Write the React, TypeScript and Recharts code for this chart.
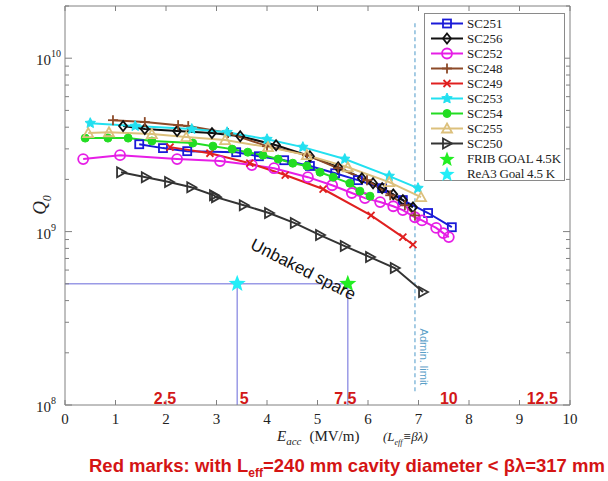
import React from 'react';
import { ComposedChart, Line, Scatter, XAxis, YAxis, ReferenceLine, ReferenceDot, Legend } from 'recharts';

const sc251 = [
  { x: 1.47, y: 3.19e9 }, { x: 1.94, y: 3.03e9 }, { x: 2.42, y: 2.91e9 }, { x: 3.39, y: 2.87e9 },
  { x: 3.84, y: 2.72e9 }, { x: 4.34, y: 2.58e9 }, { x: 4.85, y: 2.39e9 }, { x: 5.35, y: 2.17e9 },
  { x: 5.8, y: 1.98e9 }, { x: 6.28, y: 1.78e9 }, { x: 6.69, y: 1.52e9 }, { x: 7.19, y: 1.28e9 },
  { x: 7.66, y: 1.06e9 },
];
const sc256 = [
  { x: 1.15, y: 4.06e9 }, { x: 1.58, y: 3.9e9 }, { x: 2.22, y: 3.8e9 }, { x: 2.91, y: 3.7e9 },
  { x: 3.47, y: 3.55e9 }, { x: 4.18, y: 3.15e9 }, { x: 4.85, y: 2.72e9 }, { x: 5.41, y: 2.35e9 },
  { x: 5.88, y: 2.03e9 }, { x: 6.1, y: 1.9e9 }, { x: 6.28, y: 1.78e9 }, { x: 6.5, y: 1.64e9 },
  { x: 6.69, y: 1.52e9 }, { x: 6.89, y: 1.38e9 },
];
const sc252 = [
  { x: 0.36, y: 2.62e9 }, { x: 1.09, y: 2.76e9 }, { x: 2.22, y: 2.62e9 }, { x: 3.07, y: 2.55e9 },
  { x: 3.7, y: 2.42e9 }, { x: 4.14, y: 2.32e9 }, { x: 4.81, y: 2.06e9 }, { x: 5.29, y: 1.85e9 },
  { x: 5.68, y: 1.67e9 }, { x: 5.94, y: 1.56e9 }, { x: 6.24, y: 1.48e9 }, { x: 6.5, y: 1.4e9 },
  { x: 6.69, y: 1.33e9 }, { x: 6.93, y: 1.21e9 }, { x: 7.07, y: 1.16e9 }, { x: 7.35, y: 1.05e9 },
  { x: 7.49, y: 9.8e8 }, { x: 7.6, y: 9.3e8 },
];
const sc248 = [
  { x: 0.95, y: 4.39e9 }, { x: 1.58, y: 4.28e9 }, { x: 2.24, y: 4.11e9 }, { x: 2.44, y: 4.06e9 },
  { x: 3.23, y: 3.7e9 }, { x: 4.0, y: 3.11e9 }, { x: 4.79, y: 2.76e9 }, { x: 5.41, y: 2.32e9 },
  { x: 5.98, y: 1.98e9 }, { x: 6.44, y: 1.62e9 }, { x: 6.73, y: 1.42e9 }, { x: 6.93, y: 1.24e9 },
];
const sc249 = [
  { x: 2.08, y: 3.07e9 }, { x: 2.87, y: 2.83e9 }, { x: 3.66, y: 2.48e9 }, { x: 4.36, y: 2.12e9 },
  { x: 5.11, y: 1.76e9 }, { x: 6.06, y: 1.24e9 }, { x: 6.69, y: 9.3e8 }, { x: 6.89, y: 8.4e8 },
];
const sc253 = [
  { x: 0.5, y: 4.22e9 }, { x: 1.39, y: 4.06e9 }, { x: 2.51, y: 3.9e9 }, { x: 3.21, y: 3.74e9 },
  { x: 4.0, y: 3.41e9 }, { x: 4.71, y: 3.07e9 }, { x: 5.54, y: 2.62e9 }, { x: 6.42, y: 2.09e9 },
  { x: 6.99, y: 1.78e9 },
];
const sc254 = [
  { x: 0.4, y: 3.46e9 }, { x: 0.85, y: 3.46e9 }, { x: 1.25, y: 3.46e9 }, { x: 1.72, y: 3.33e9 },
  { x: 2.53, y: 3.24e9 }, { x: 2.93, y: 3.11e9 }, { x: 3.31, y: 2.99e9 }, { x: 3.62, y: 2.87e9 },
  { x: 3.92, y: 2.76e9 }, { x: 4.22, y: 2.62e9 }, { x: 4.51, y: 2.48e9 }, { x: 4.79, y: 2.39e9 },
  { x: 5.05, y: 2.2e9 }, { x: 5.31, y: 2.06e9 }, { x: 5.64, y: 1.9e9 }, { x: 5.84, y: 1.71e9 },
  { x: 6.04, y: 1.6e9 },
];
const sc255 = [
  { x: 0.46, y: 3.7e9 }, { x: 0.87, y: 3.74e9 }, { x: 1.72, y: 3.65e9 }, { x: 2.4, y: 3.51e9 },
  { x: 3.17, y: 3.37e9 }, { x: 4.02, y: 3.07e9 }, { x: 4.79, y: 2.76e9 }, { x: 5.6, y: 2.35e9 },
  { x: 6.42, y: 1.93e9 }, { x: 7.05, y: 1.58e9 },
];
const sc250 = [
  { x: 1.11, y: 2.2e9 }, { x: 1.6, y: 2.06e9 }, { x: 2.06, y: 1.93e9 }, { x: 2.5, y: 1.8e9 },
  { x: 2.95, y: 1.62e9 }, { x: 2.99, y: 1.58e9 }, { x: 3.54, y: 1.42e9 }, { x: 4.04, y: 1.28e9 },
  { x: 4.55, y: 1.12e9 }, { x: 5.05, y: 9.55e8 }, { x: 5.54, y: 8.25e8 }, { x: 6.04, y: 7.13e8 },
  { x: 6.53, y: 6.16e8 }, { x: 7.09, y: 4.48e8 },
];
const fribGoal = [{ x: 5.6, y: 5e8 }];
const rea3Goal = [{ x: 3.41, y: 5e8 }];

const goalQ = 5e8;
const adminLimit = 6.93;
const adminTop = 1.6e10;

const xTicks = [0, 1, 2, 3, 4, 5, 6, 7, 8, 9, 10];
const yTicks = [
  1e8, 2e8, 3e8, 4e8, 5e8, 6e8, 7e8, 8e8, 9e8,
  1e9, 2e9, 3e9, 4e9, 5e9, 6e9, 7e9, 8e9, 9e9,
  1e10, 2e10,
];
const redLabels = [
  { x: 1.98, label: '2.5' },
  { x: 3.55, label: '5' },
  { x: 5.55, label: '7.5' },
  { x: 7.6, label: '10' },
  { x: 9.45, label: '12.5' },
];
const redLabelQ = 1.1e8;

const SERIF = "'Liberation Serif', 'DejaVu Serif', 'Times New Roman', serif";
const SANS = "'Liberation Sans', Arial, sans-serif";
const AXIS = '#808080';

type MarkerKind = 'square' | 'diamond' | 'circle' | 'plus' | 'cross' | 'star' | 'dot' | 'triUp' | 'triRight';

const starPts = (cx: number, cy: number, ro: number, ri: number) => {
  const pts: string[] = [];
  for (let i = 0; i < 10; i++) {
    const r = i % 2 === 0 ? ro : ri;
    const a = -Math.PI / 2 + (i * Math.PI) / 5;
    pts.push(`${cx + r * Math.cos(a)},${cy + r * Math.sin(a)}`);
  }
  return pts.join(' ');
};

const Marker = ({ kind, cx, cy, color }: { kind: MarkerKind; cx: number; cy: number; color: string }) => {
  const sw = 1.8;
  switch (kind) {
    case 'square':
      return <rect x={cx - 4} y={cy - 4} width={8} height={8} fill="none" stroke={color} strokeWidth={sw} />;
    case 'diamond':
      return <polygon points={`${cx},${cy - 5} ${cx + 4},${cy} ${cx},${cy + 5} ${cx - 4},${cy}`} fill="none" stroke={color} strokeWidth={sw} />;
    case 'circle':
      return <circle cx={cx} cy={cy} r={5} fill="none" stroke={color} strokeWidth={sw} />;
    case 'plus':
      return (
        <g stroke={color} strokeWidth={sw}>
          <line x1={cx - 5} x2={cx + 5} y1={cy} y2={cy} />
          <line x1={cx} x2={cx} y1={cy - 5} y2={cy + 5} />
        </g>
      );
    case 'cross':
      return (
        <g stroke={color} strokeWidth={sw}>
          <line x1={cx - 3.5} x2={cx + 3.5} y1={cy - 3.5} y2={cy + 3.5} />
          <line x1={cx - 3.5} x2={cx + 3.5} y1={cy + 3.5} y2={cy - 3.5} />
        </g>
      );
    case 'star':
      return <polygon points={starPts(cx, cy, 5.5, 2.6)} fill={color} stroke={color} strokeWidth={1} />;
    case 'dot':
      return <circle cx={cx} cy={cy} r={4} fill={color} stroke={color} strokeWidth={1} />;
    case 'triUp':
      return <polygon points={`${cx},${cy - 5} ${cx + 5},${cy + 4} ${cx - 5},${cy + 4}`} fill="none" stroke={color} strokeWidth={sw} />;
    case 'triRight':
      return <polygon points={`${cx + 5},${cy} ${cx - 4},${cy - 5} ${cx - 4},${cy + 5}`} fill="none" stroke={color} strokeWidth={sw} />;
  }
  return null;
};

const series: { name: string; data: { x: number; y: number }[]; color: string; kind: MarkerKind }[] = [
  { name: 'SC251', data: sc251, color: '#1a1ad8', kind: 'square' },
  { name: 'SC256', data: sc256, color: '#111111', kind: 'diamond' },
  { name: 'SC252', data: sc252, color: '#e61ee6', kind: 'circle' },
  { name: 'SC248', data: sc248, color: '#8c4a28', kind: 'plus' },
  { name: 'SC249', data: sc249, color: '#e02020', kind: 'cross' },
  { name: 'SC253', data: sc253, color: '#22e0f0', kind: 'star' },
  { name: 'SC254', data: sc254, color: '#22dd22', kind: 'dot' },
  { name: 'SC255', data: sc255, color: '#dcc07c', kind: 'triUp' },
  { name: 'SC250', data: sc250, color: '#333333', kind: 'triRight' },
];

const goals = [
  { name: 'FRIB GOAL 4.5K', data: fribGoal, color: '#22ee22' },
  { name: 'ReA3 Goal 4.5 K', data: rea3Goal, color: '#22eef8' },
];

const LeftTick = (props: any) => {
  const { x, y, payload } = props;
  const v = payload.value as number;
  const e = Math.round(Math.log10(v));
  const major = Math.abs(v / Math.pow(10, e) - 1) < 1e-6;
  return (
    <g>
      <line x1={x} x2={x + (major ? 7 : 4)} y1={y} y2={y} stroke={AXIS} strokeWidth={1} />
      {major && (
        <text x={x - 29} y={y + 7} style={{ fontFamily: SERIF }} fontSize={15} fill="#222" textAnchor="start">
          10
          <tspan dy={-8} fontSize={10}>{e}</tspan>
        </text>
      )}
    </g>
  );
};

const RightTick = (props: any) => {
  const { x, y, payload } = props;
  const v = payload.value as number;
  const e = Math.round(Math.log10(v));
  const major = Math.abs(v / Math.pow(10, e) - 1) < 1e-6;
  return <line x1={x} x2={x - (major ? 7 : 4)} y1={y} y2={y} stroke={AXIS} strokeWidth={1} />;
};

const BottomTick = (props: any) => {
  const { x, y, payload } = props;
  return (
    <g>
      <line x1={x} x2={x} y1={y} y2={y - 5} stroke={AXIS} strokeWidth={1} />
      <text x={x} y={y + 19} textAnchor="middle" style={{ fontFamily: SERIF }} fontSize={15} fill="#222">
        {payload.value}
      </text>
    </g>
  );
};

const TopTick = (props: any) => {
  const { x, y } = props;
  return <line x1={x} x2={x} y1={y} y2={y + 5} stroke={AXIS} strokeWidth={1} />;
};

const LegendBox = () => (
  <div
    style={{
      width: 141,
      height: 168,
      border: '1px solid #8a8a8a',
      background: '#fff',
      boxSizing: 'border-box',
      paddingTop: 2,
      fontFamily: SERIF,
      fontSize: 13,
      color: '#222',
      whiteSpace: 'nowrap',
      overflow: 'visible',
    }}
  >
    {series.map((s) => (
      <div key={s.name} style={{ height: 15, display: 'flex', alignItems: 'center' }}>
        <svg width={42} height={15} style={{ flex: 'none' }}>
          <line x1={6} x2={38} y1={7.5} y2={7.5} stroke={s.color} strokeWidth={2} />
          <Marker kind={s.kind} cx={22} cy={7.5} color={s.color} />
        </svg>
        <span style={{ whiteSpace: 'nowrap' }}>{s.name}</span>
      </div>
    ))}
    {goals.map((g) => (
      <div key={g.name} style={{ height: 15.5, display: 'flex', alignItems: 'center' }}>
        <svg width={42} height={16} style={{ flex: 'none' }}>
          <polygon points={starPts(22, 8.5, 8, 3.4)} fill={g.color} />
        </svg>
        <span style={{ whiteSpace: 'nowrap', letterSpacing: -0.2 }}>{g.name}</span>
      </div>
    ))}
  </div>
);

export default function App() {
  return (
    <div style={{ position: 'absolute', left: 0, top: 0, width: 608, height: 481, background: '#fff' }}>
      <ComposedChart width={608} height={481} margin={{ top: 5, right: 37, bottom: 46, left: 15 }}>
        <XAxis
          xAxisId={0}
          dataKey="x"
          type="number"
          domain={[0, 10]}
          ticks={xTicks}
          allowDataOverflow
          height={30}
          tickSize={0}
          tickMargin={0}
          tickLine={false}
          axisLine={{ stroke: AXIS }}
          tick={<BottomTick />}
          interval={0}
        />
        <XAxis
          xAxisId="top"
          orientation="top"
          dataKey="x"
          type="number"
          domain={[0, 10]}
          ticks={xTicks}
          allowDataOverflow
          height={1}
          tickSize={0}
          tickMargin={0}
          tickLine={false}
          axisLine={{ stroke: AXIS }}
          tick={<TopTick />}
          interval={0}
        />
        <YAxis
          yAxisId={0}
          type="number"
          scale="log"
          domain={[1e8, 2e10]}
          ticks={yTicks}
          allowDataOverflow
          width={50}
          tickSize={0}
          tickMargin={0}
          tickLine={false}
          axisLine={{ stroke: AXIS }}
          tick={<LeftTick />}
          interval={0}
        />
        <YAxis
          yAxisId="right"
          orientation="right"
          type="number"
          scale="log"
          domain={[1e8, 2e10]}
          ticks={yTicks}
          allowDataOverflow
          width={1}
          tickSize={0}
          tickMargin={0}
          tickLine={false}
          axisLine={{ stroke: AXIS }}
          tick={<RightTick />}
          interval={0}
        />
        <ReferenceLine
          segment={[{ x: 0, y: goalQ }, { x: fribGoal[0].x, y: goalQ }]}
          stroke="#9a9ae6"
          strokeWidth={1.5}
          ifOverflow="visible"
        />
        <ReferenceLine
          segment={[{ x: rea3Goal[0].x, y: 1e8 }, { x: rea3Goal[0].x, y: goalQ }]}
          stroke="#9a9ae6"
          strokeWidth={1.5}
          ifOverflow="visible"
        />
        <ReferenceLine
          segment={[{ x: fribGoal[0].x, y: 1e8 }, { x: fribGoal[0].x, y: goalQ }]}
          stroke="#9a9ae6"
          strokeWidth={1.5}
          ifOverflow="visible"
        />
        <ReferenceLine
          segment={[{ x: adminLimit, y: 1.2e8 }, { x: adminLimit, y: adminTop }]}
          stroke="#6aaad2"
          strokeWidth={1.2}
          strokeDasharray="4 3"
          ifOverflow="visible"
        />
        {series.map((s) => (
          <Line
            key={s.name}
            name={s.name}
            data={s.data}
            dataKey="y"
            stroke={s.color}
            strokeWidth={2}
            isAnimationActive={false}
            legendType="none"
            dot={(p: any) => <Marker key={`${s.name}-${p.index}`} kind={s.kind} cx={p.cx} cy={p.cy} color={s.color} />}
            activeDot={false}
          />
        ))}
        {goals.map((g) => (
          <Scatter
            key={g.name}
            name={g.name}
            data={g.data}
            dataKey="y"
            fill={g.color}
            isAnimationActive={false}
            legendType="none"
            shape={(p: any) => <polygon points={starPts(p.cx, p.cy, 9, 3.8)} fill={g.color} />}
          />
        ))}
        {redLabels.map((r) => (
          <ReferenceDot
            key={r.label}
            x={r.x}
            y={redLabelQ}
            r={0}
            fill="none"
            stroke="none"
            ifOverflow="visible"
            label={{ value: r.label, position: 'center', fill: '#d21818', fontSize: 16, fontWeight: 'bold', fontFamily: SANS }}
          />
        ))}
        <Legend
          layout="vertical"
          align="center"
          verticalAlign="middle"
          content={<LegendBox />}
          wrapperStyle={{ left: 424, top: 13, width: 141, height: 168 }}
        />
      </ComposedChart>

      <div
        style={{
          position: 'absolute',
          left: 42,
          top: 205,
          transform: 'translate(-50%, -50%) rotate(-90deg)',
          fontFamily: SERIF,
          fontStyle: 'italic',
          fontSize: 19,
          color: '#222',
          whiteSpace: 'nowrap',
        }}
      >
        Q<sub style={{ fontSize: 12 }}>0</sub>
      </div>

      <div
        style={{
          position: 'absolute',
          left: 303,
          top: 270,
          transform: 'translate(-50%, -50%) rotate(27deg)',
          fontFamily: SANS,
          fontSize: 17,
          color: '#111',
          whiteSpace: 'nowrap',
        }}
      >
        Unbaked spare
      </div>

      <div
        style={{
          position: 'absolute',
          left: 424,
          top: 357,
          transform: 'translate(-50%, -50%) rotate(90deg)',
          fontFamily: SANS,
          fontSize: 11,
          color: '#5aa0c8',
          whiteSpace: 'nowrap',
        }}
      >
        Admin. limit
      </div>

      <div
        style={{
          position: 'absolute',
          left: 277,
          top: 428,
          fontFamily: SERIF,
          fontSize: 15,
          color: '#222',
          whiteSpace: 'nowrap',
        }}
      >
        <i>E</i>
        <sub style={{ fontStyle: 'italic', fontSize: 11 }}>acc</sub>
        <span style={{ marginLeft: 8 }}>(MV/m)</span>
      </div>

      <div
        style={{
          position: 'absolute',
          left: 383,
          top: 429,
          fontFamily: SERIF,
          fontStyle: 'italic',
          fontSize: 13,
          color: '#222',
          whiteSpace: 'nowrap',
        }}
      >
        (L<sub style={{ fontSize: 8 }}>eff</sub>≡βλ)
      </div>

      <div
        style={{
          position: 'absolute',
          left: 89,
          top: 455,
          fontFamily: SANS,
          fontWeight: 'bold',
          fontSize: 18.5,
          color: '#d41414',
          whiteSpace: 'nowrap',
        }}
      >
        Red marks: with L<sub style={{ fontSize: 12 }}>eff</sub>=240 mm cavity diameter &lt; βλ=317 mm
      </div>
    </div>
  );
}
